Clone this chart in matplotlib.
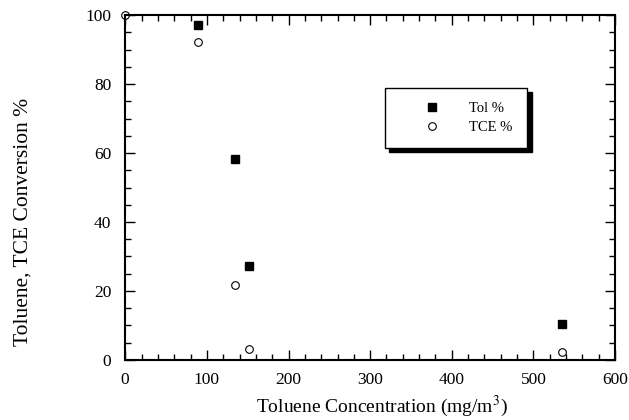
import matplotlib
matplotlib.use('Agg')
from matplotlib import pyplot as plt
from matplotlib.ticker import MultipleLocator

plt.rcParams['font.family'] = ['Liberation Serif', 'DejaVu Serif']
plt.rcParams['mathtext.fontset'] = 'stix'

# toluene concentration (mg/m3) and conversions (%)
tol_x = [89, 135, 152, 535]
tol_y = [97.2, 58.3, 27.1, 10.4]
tce_x = [0, 89, 135, 152, 535]
tce_y = [100, 92.3, 21.7, 3.2, 2.3]

fig = plt.figure(figsize=(6.29, 4.2), dpi=100)
ax = fig.add_axes([0.199, 0.143, 0.779, 0.821])

ax.plot(tol_x, tol_y, 's', color='black', markersize=5.5, label='Tol %', clip_on=False)
ax.plot(tce_x, tce_y, 'o', markerfacecolor='white', markeredgecolor='black',
        markersize=5.5, markeredgewidth=0.8, label='TCE %', clip_on=False)

ax.set_xlim(0, 600)
ax.set_ylim(0, 100)
ax.xaxis.set_major_locator(MultipleLocator(100))
ax.xaxis.set_minor_locator(MultipleLocator(20))
ax.yaxis.set_major_locator(MultipleLocator(20))
ax.yaxis.set_minor_locator(MultipleLocator(5))
ax.tick_params(which='both', direction='in', top=True, right=True, width=1)
ax.tick_params(which='major', length=7, labelsize=12.5)
ax.tick_params(axis='x', which='major', pad=9)
ax.tick_params(axis='y', which='major', pad=10)
ax.tick_params(which='minor', length=4)
for s in ax.spines.values():
    s.set_linewidth(1.5)

ax.set_xlabel('Toluene Concentration (mg/m$^3$)', fontsize=14)
ax.set_ylabel('Toluene, TCE Conversion %', fontsize=15.5)
ax.xaxis.set_label_coords(0.525, -0.098)
ax.yaxis.set_label_coords(-0.19, 0.40)

leg = ax.legend(loc='upper left', bbox_to_anchor=(0.53, 0.79), frameon=True,
                fancybox=False, shadow={'color': 'black', 'alpha': 1, 'ox': 3, 'oy': -3},
                edgecolor='black', fontsize=10.5, handlelength=4.4, handletextpad=0.4,
                borderpad=1.0, labelspacing=0.35, borderaxespad=0)
leg.get_frame().set_linewidth(1)

fig.savefig('out.png', dpi=100)
